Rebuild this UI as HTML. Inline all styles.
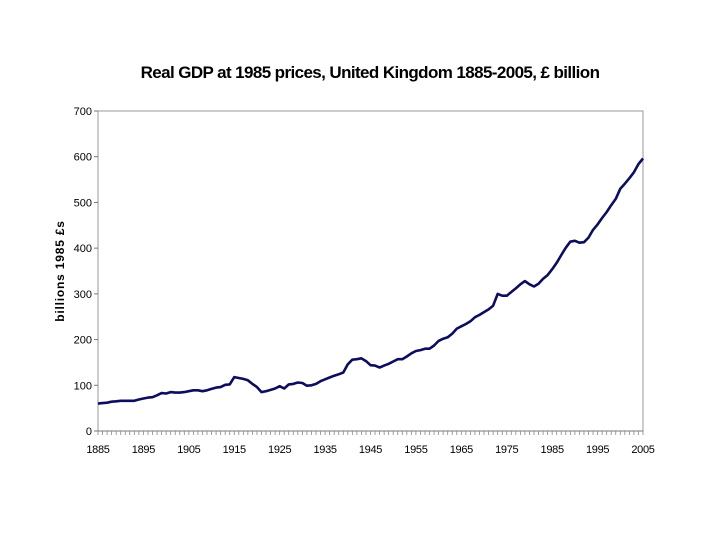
<!DOCTYPE html>
<html><head><meta charset="utf-8"><style>
html,body{margin:0;padding:0;background:#fff;}
svg{display:block;font-family:"Liberation Sans",sans-serif;}
</style></head><body>
<svg id="chart" width="720" height="540">
<text x="370" y="78" text-anchor="middle" font-size="17" font-weight="bold" letter-spacing="-0.6">Real GDP at 1985 prices, United Kingdom 1885-2005, £ billion</text>
<text transform="translate(64,271) rotate(-90)" text-anchor="middle" font-size="12" font-weight="bold" letter-spacing="0.8">billions 1985 £s</text>
<g id="axes"></g>
</svg>
<script>
const startYear = 1885;
const gdp = [60,61,62,64,65,66,66,66,66,69,71,73,74,78,83,82,85,84,84,85,
87,89,89,87,89,92,95,96,101,102,118,116,114,111,103,96,85,87,90,93,
98,93,102,103,106,105,99,100,103,109,113,117,121,124,128,146,156,157,159,153,
144,143,139,143,147,152,157,157,163,170,175,177,180,180,187,197,202,205,213,224,
229,234,240,249,254,260,266,274,300,296,296,304,312,321,328,321,316,322,333,341,
354,368,385,401,414,416,412,413,423,440,452,466,479,494,508,530,541,553,566,584,596];
const yTicks = [0,100,200,300,400,500,600,700];
const xTicks = [1885,1895,1905,1915,1925,1935,1945,1955,1965,1975,1985,1995,2005];

const L=98,R=643,T=111,B=431;
const xs=y=>L+(y-1885)/(2005-1885)*(R-L);
const ys=v=>B-v/700*(B-T);
const NS="http://www.w3.org/2000/svg";
const g=document.getElementById('axes');
function mk(t,a){const e=document.createElementNS(NS,t);for(const k in a)e.setAttribute(k,a[k]);g.appendChild(e);return e;}
const box=mk('rect',{x:L,y:T,width:R-L,height:B-T,fill:'none',stroke:'#999','stroke-width':1});


yTicks.forEach(v=>{
  mk('line',{x1:L-4,x2:L,y1:ys(v),y2:ys(v),stroke:'#777'});
  const t=mk('text',{x:L-6,y:ys(v)+4,'text-anchor':'end','font-size':11});
  t.textContent=v;
  
  
});
mk('line',{x1:L,x2:R,y1:B,y2:B,stroke:'#777'});
for(let yr=1885;yr<=2005;yr++){
  mk('line',{x1:xs(yr),x2:xs(yr),y1:B,y2:B+4,stroke:'#888','stroke-width':0.8});
}
xTicks.forEach(yr=>{
  const t=mk('text',{x:xs(yr),y:B+22,'text-anchor':'middle','font-size':11,'letter-spacing':'-0.3'});
  t.textContent=yr;
  
  
});
const pts=gdp.map((v,i)=>xs(startYear+i).toFixed(1)+','+ys(v).toFixed(1)).join(' ');
const line=mk('polyline',{points:pts,fill:'none',stroke:'#0d0d5e','stroke-width':2.6,'stroke-linejoin':'round'});


</script>
</body></html>
